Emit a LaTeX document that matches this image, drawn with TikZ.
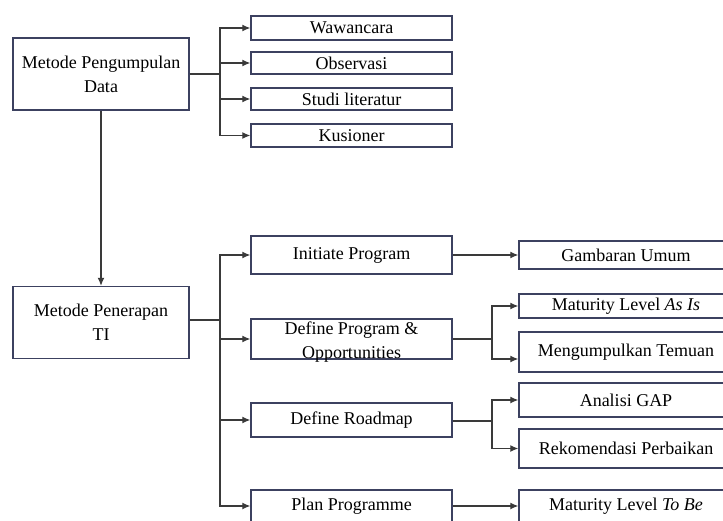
\documentclass[tikz,border=0pt]{standalone}
\usepackage{fontspec}
\setmainfont{Liberation Serif}
\usepackage{tikz}
\usetikzlibrary{arrows.meta, positioning}
\definecolor{boxline}{HTML}{3C4160}
\definecolor{linkline}{HTML}{3A3A3A}

\begin{document}
\begin{tikzpicture}[x=1pt, y=-1pt, font=\fontsize{18}{24}\selectfont]
        % Setup the style for the boxes and the links
        \tikzset{box style/.style={rectangle,
                                   draw=boxline,
                                   line width=1.4pt,
                                   inner sep=0pt,
                                   align=center},
                 method box/.style={box style, minimum width=176pt, minimum height=72pt},
                 phase box/.style={box style, minimum width=201pt},
                 result box/.style={box style, minimum width=214pt},
                 link/.style={draw=linkline, line width=1.2pt},
                 arrow link/.style={link, -{Latex[length=8pt,width=7pt]}}}

        \useasboundingbox (0,0) rectangle (723,520);
        \clip (0,0) rectangle (723,520);

        % Draw the boxes
        \node[method box] at (101, 74)    (kumpul)    {Metode Pengumpulan\\Data};
        \node[method box] at (101, 322.5) (terap)     {Metode Penerapan\\TI};

        \node[phase box, minimum height=24pt] at (351.5, 28)  (wawancara) {Wawancara};
        \node[phase box, minimum height=22pt] at (351.5, 63)  (observasi) {Observasi};
        \node[phase box, minimum height=22pt] at (351.5, 99)  (studi)     {Studi literatur};
        \node[phase box, minimum height=23pt] at (351.5, 135.5) (kusioner) {Kusioner};

        \node[phase box, minimum height=38pt] at (351.5, 255) (initiate)  {Initiate Program};
        \node[phase box, minimum height=40pt] at (351.5, 339) (defprog)
            {\raisebox{-7pt}[0pt][0pt]{\parbox[c]{201pt}{\centering Define Program \&\\Opportunities}}};
        \node[phase box, minimum height=34pt] at (351.5, 420) (roadmap)   {Define Roadmap};
        \node[phase box, minimum height=32pt] at (351.5, 506) (plan)      {Plan Programme};

        \node[result box, minimum height=28pt] at (626, 255)   (gambaran) {Gambaran Umum};
        \node[result box, minimum height=24pt] at (626, 306)   (asis)     {Maturity Level \textit{As Is}};
        \node[result box, minimum height=40pt] at (626, 352)   (temuan)   {Mengumpulkan Temuan};
        \node[result box, minimum height=34pt] at (626, 400)   (gap)      {Analisi GAP};
        \node[result box, minimum height=39pt] at (626, 448.5) (rekom)    {Rekomendasi Perbaikan};
        \node[result box, minimum height=32pt] at (626, 506)   (tobe)     {Maturity Level \textit{To Be}};

        % Branch points
        \coordinate (kumpulbus) at (220, 74);
        \coordinate (terapbus)  at (220, 320);
        \coordinate (defbus)    at (492, 339);
        \coordinate (roadbus)   at (492, 421);

        % Connect the boxes
        \draw[link] (kumpul.east) -- (kumpulbus);
        \foreach \target in {wawancara, observasi, studi, kusioner}
            \draw[arrow link] (kumpulbus) |- (\target.west);

        \draw[arrow link] (kumpul.south) -- (terap.north);

        \draw[link] ([yshift=2.5pt]terap.east) -- (terapbus);
        \foreach \target in {initiate, defprog, roadmap, plan}
            \draw[arrow link] (terapbus) |- (\target.west);

        \draw[arrow link] (initiate.east) -- (gambaran.west);

        \draw[link] (defprog.east) -- (defbus);
        \draw[arrow link] (defbus) |- (asis.west);
        \draw[arrow link] (defbus) |- ([yshift=-7pt]temuan.west);

        \draw[link] ([yshift=-1pt]roadmap.east) -- (roadbus);
        \draw[arrow link] (roadbus) |- (gap.west);
        \draw[arrow link] (roadbus) |- (rekom.west);

        \draw[arrow link] (plan.east) -- (tobe.west);
\end{tikzpicture}
\end{document}
